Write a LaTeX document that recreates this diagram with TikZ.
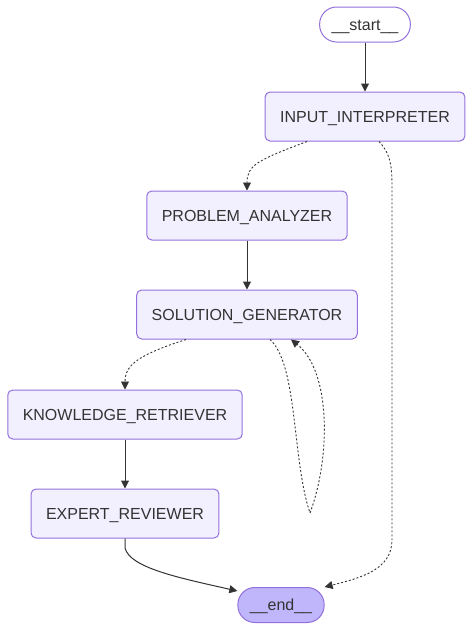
\documentclass[tikz,border=0pt]{standalone}
\usepackage{fontspec}
\setmainfont{Liberation Sans}
\usetikzlibrary{positioning,arrows.meta}
\definecolor{nodefill}{HTML}{F2F0FF}
\definecolor{nodeline}{HTML}{9370DB}
\definecolor{endfill}{HTML}{BFB6FC}
\definecolor{edgeline}{HTML}{333333}

\begin{document}
\begin{tikzpicture}[x=1pt, y=-1pt,
      agent/.style={rectangle, draw=nodeline, fill=nodefill, line
      width=1pt, rounded corners=5pt, minimum height=49pt, inner
      xsep=15pt, text height=11.5pt, text depth=0pt, text=edgeline,
      font=\fontsize{16}{19}\selectfont},
      term/.style={agent, rounded corners=17pt, minimum height=35pt,
      inner xsep=12pt},
      flow/.style={-{Triangle[length=8pt, width=8pt]}, edgeline, line
      width=1pt},
      cond/.style={flow, line width=0.9pt, dash pattern=on 2pt off 2pt},
    ]
    \useasboundingbox (0,0) rectangle (473,630);
    \node[term, fill=white] (start) at (365,24.5) {\_\_start\_\_};
    \node[agent] (interp) at (365,116.5) {INPUT\_INTERPRETER};
    \node[agent] (analyzer) at (247,215.5) {PROBLEM\_ANALYZER};
    \node[agent] (generator) at (247,314.5) {SOLUTION\_GENERATOR};
    \node[agent] (retriever) at (125,414.5) {KNOWLEDGE\_RETRIEVER};
    \node[agent] (reviewer) at (125,513.5) {EXPERT\_REVIEWER};
    \node[term, fill=endfill] (finish) at (281,605) {\_\_end\_\_};

    \draw[flow] (start) -- (interp);
    \draw[cond] ([xshift=-58pt]interp.south) .. controls (258,160) and
      (247,165) .. (analyzer.north);
    \draw[cond] ([xshift=14pt]interp.south) .. controls (392,155) and
      (392,170) .. (392,190) -- (392,540) .. controls (392,570) and
      (360,578) .. (finish.north east);
    \draw[flow] (analyzer) -- (generator);
    \draw[cond] ([xshift=-61pt]generator.south) .. controls (138,355) and
      (125,365) .. (retriever.north);
    \draw[cond] ([xshift=23pt]generator.south) .. controls (298,365) and
      (292,460) .. (310,513) .. controls (330,460) and (332,372) ..
      ([xshift=44pt]generator.south);
    \draw[flow] (retriever) -- (reviewer);
    \draw[flow] (reviewer.south) -- (125,548) .. controls (130,568) and
      (180,578) .. ([yshift=-4pt]finish.north west);
  \end{tikzpicture}
\end{document}
